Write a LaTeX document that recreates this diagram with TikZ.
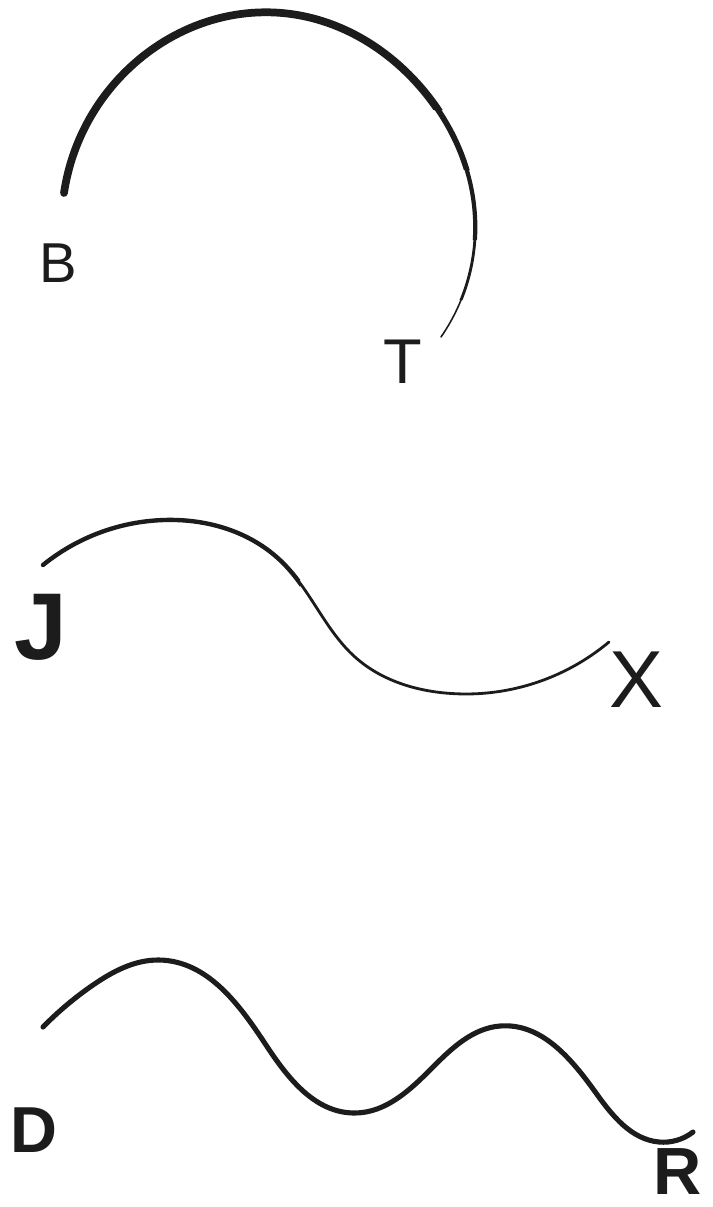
\documentclass[tikz,border=0pt]{standalone}
\usepackage{fontspec}
\setmainfont{Liberation Sans}
\usetikzlibrary{hobby}

\definecolor{ink}{HTML}{1C1C1C}

% 곡선 경로 (pixel 좌표)
\newcommand{\archpath}{(64,193) .. (114,84) .. (282,13) .. (423,90) .. (475,217) .. (441,337)}
\newcommand{\wavepath}{(43,565) .. (164,520) .. (282,562) .. (355,657) .. (445,693) .. (609,642)}
\newcommand{\ripplepath}{(43,1027) .. (93,985) .. (159,960) .. (266,1045) .. (355,1113) .. (432,1068) .. (500,1026) .. (596,1093) .. (659,1142) .. (693,1132)}

\begin{document}
\begin{tikzpicture}[x=0.02cm, y=-0.02cm, line cap=round, use Hobby shortcut,
    letter/.style={text=ink, inner sep=0pt}]

        \useasboundingbox[fill=white] (0,0) rectangle (713,1207);

        % 첫 번째 곡선: B 에서 T 까지 (점점 가늘어짐)
        \draw[ink, line width=0.9pt] \archpath;
        \foreach \w/\yc in {1.6/300, 2.4/240, 3.2/170, 4.4/110}{
            \begin{scope}
                \clip (0,0) rectangle (713,\yc) (0,0) rectangle (400,400);
                \draw[ink, line width=\w pt] \archpath;
            \end{scope}
        }
        \node[letter, font=\fontsize{32}{32}\selectfont] (b) at (58,263) {B};
        \node[letter, font=\fontsize{36}{36}\selectfont] (t) at (403,362) {T};

        % 두 번째 곡선: J 에서 X 까지
        \draw[ink, line width=1.6pt] \wavepath;
        \begin{scope}
            \clip (0,400) rectangle (300,800);
            \draw[ink, line width=2.5pt] \wavepath;
        \end{scope}
        \node[letter, font=\fontsize{54}{54}\selectfont\bfseries] (j) at (41,627) {J};
        \node[letter, font=\fontsize{46}{46}\selectfont] (x) at (636,680) {X};

        % 세 번째 곡선: D 에서 R 까지
        \draw[ink, line width=2.9pt] \ripplepath;
        \node[letter, font=\fontsize{37}{37}\selectfont\bfseries] (d) at (34,1130) {D};
        \node[letter, font=\fontsize{38}{38}\selectfont\bfseries] (r) at (678,1172) {R};

    \end{tikzpicture}
\end{document}
